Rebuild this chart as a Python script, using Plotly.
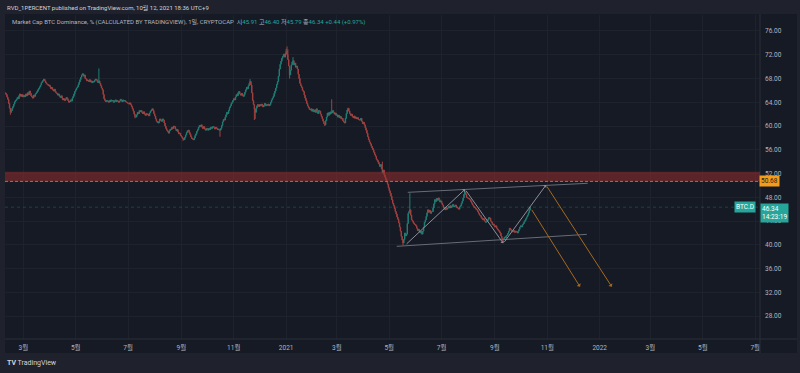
import plotly.graph_objects as go
import pandas as pd

# ---------------- data (daily closes) ----------------
close_2020_02 = [65.5, 65.3, 64.9, 64.5, 63.8, 63.0, 62.3, 62.6, 63.0, 63.3, 63.7, 64.1, 64.3, 64.5,
                 64.8, 64.6, 65.1, 65.4, 65.0, 65.3, 64.9]  # from Feb 9
close_2020_03 = [65.2, 64.9, 65.0, 65.4, 65.1, 65.6, 65.3, 65.9, 65.5, 65.1, 64.9, 64.7, 65.2, 65.0,
                 65.4, 65.6, 65.8, 66.1, 66.3, 66.6, 66.9, 67.3, 67.5, 67.7, 67.9, 67.6, 67.3, 67.1,
                 67.0, 66.8, 66.9]
close_2020_04 = [66.6, 66.3, 66.5, 66.1, 65.9, 66.2, 65.8, 65.6, 65.5, 65.2, 65.4, 65.0, 64.8, 65.1,
                 64.7, 64.4, 64.6, 64.3, 64.5, 64.8, 64.6, 64.3, 64.0, 64.1, 64.4, 64.2, 64.7, 65.0,
                 65.4, 65.8]
close_2020_05 = [66.1, 66.4, 66.6, 67.0, 67.4, 67.8, 68.2, 68.6, 68.8, 68.4, 68.6, 68.0, 67.9, 67.6,
                 67.7, 67.5, 67.8, 67.4, 67.6, 67.3, 67.5, 67.4, 67.7, 67.9, 67.8, 67.5, 67.3, 67.6,
                 67.2, 66.8, 66.4]
close_2020_06 = [66.1, 65.3, 64.6, 64.3, 64.1, 64.3, 64.2, 64.0, 64.3, 64.1, 64.4, 64.2, 64.3, 64.0,
                 64.2, 64.4, 64.1, 64.3, 64.2, 64.0, 64.2, 64.5, 64.3, 64.1, 64.4, 64.2, 64.3, 64.1,
                 64.0, 63.9]
close_2020_07 = [63.8, 63.7, 63.9, 63.6, 63.3, 62.9, 62.5, 62.0, 61.6, 61.5, 61.9, 62.3, 62.1, 62.6,
                 62.4, 62.6, 62.3, 62.1, 62.4, 62.0, 61.8, 62.1, 61.9, 62.0, 61.7, 62.2, 62.5, 62.7,
                 62.9, 62.6, 62.1]
close_2020_08 = [61.7, 61.2, 60.8, 60.6, 60.5, 60.8, 61.2, 61.0, 60.8, 61.2, 61.0, 60.5, 60.0, 59.6,
                 59.3, 59.1, 58.8, 59.2, 59.5, 59.4, 59.8, 59.6, 60.0, 59.9, 59.5, 59.2, 59.4, 59.0,
                 58.7, 58.8, 58.4]
close_2020_09 = [58.2, 58.0, 57.8, 57.7, 58.1, 58.5, 58.9, 59.2, 59.3, 58.9, 58.6, 58.2, 57.9, 57.8,
                 57.7, 58.0, 58.4, 58.7, 59.1, 59.4, 59.8, 60.1, 59.9, 60.2, 59.8, 59.6, 59.9, 59.5,
                 59.3, 59.6]
close_2020_10 = [59.5, 59.3, 59.6, 59.4, 59.8, 59.6, 59.9, 59.9, 59.7, 59.5, 59.8, 59.6, 59.4, 59.5,
                 59.3, 59.3, 59.6, 60.1, 60.7, 61.1, 61.0, 61.5, 61.9, 62.3, 62.1, 62.6, 63.1, 63.4,
                 63.8, 64.0, 64.3]
close_2020_11 = [64.6, 64.4, 64.9, 65.3, 65.1, 65.6, 65.8, 65.4, 65.2, 65.5, 65.1, 65.0, 65.3, 65.7,
                 66.1, 66.5, 66.3, 66.8, 67.2, 67.5, 66.9, 65.6, 64.3, 63.6, 62.8, 62.3, 63.0, 63.4,
                 63.6, 63.3]
close_2020_12 = [63.6, 63.4, 63.7, 63.5, 63.2, 63.5, 63.8, 63.4, 63.6, 63.5, 63.7, 63.4, 63.6, 64.0,
                 64.4, 64.7, 65.0, 65.5, 65.9, 66.4, 67.0, 67.5, 68.4, 69.6, 70.4, 70.9, 71.4, 71.7,
                 72.1, 71.6, 72.2]
close_2021_01 = [72.6, 72.0, 71.2, 70.1, 68.6, 69.4, 70.3, 70.8, 71.0, 70.3, 70.6, 69.9, 70.1, 69.6,
                 68.7, 68.0, 67.2, 66.8, 66.5, 66.0, 65.8, 65.2, 64.7, 64.3, 63.8, 63.4, 63.1, 62.8,
                 62.7, 62.9, 62.5]
close_2021_02 = [62.8, 62.4, 62.7, 62.3, 62.9, 62.4, 62.1, 62.6, 62.5, 62.0, 61.6, 61.2, 60.8, 60.4,
                 60.2, 60.9, 61.5, 62.2, 61.8, 62.3, 62.0, 62.4, 62.2, 62.6, 62.3, 62.0, 62.2, 61.8]
close_2021_03 = [61.9, 61.5, 61.8, 61.4, 61.6, 61.2, 61.3, 60.9, 60.7, 60.5, 61.3, 62.1, 62.7, 63.0,
                 62.5, 62.1, 61.8, 62.0, 61.6, 61.4, 61.7, 61.3, 61.5, 61.2, 61.4, 61.1, 61.0, 61.0,
                 61.3, 60.8, 60.4]
close_2021_04 = [60.6, 60.2, 59.7, 59.3, 58.8, 58.2, 57.7, 57.3, 57.0, 56.6, 56.3, 56.0, 55.6, 55.2,
                 54.9, 54.4, 54.2, 53.9, 53.6, 53.2, 53.5, 52.8, 52.1, 52.6, 51.8, 51.4, 51.0, 50.6,
                 50.2, 49.6]
close_2021_05 = [49.1, 48.7, 48.2, 47.6, 47.0, 46.6, 46.1, 45.6, 45.2, 44.7, 44.3, 43.7, 43.0, 42.3,
                 41.4, 40.8, 40.3, 40.9, 42.0, 41.5, 41.8, 43.6, 45.3, 45.6, 45.9, 45.0, 44.2, 44.0,
                 43.7, 43.5, 43.4]
close_2021_06 = [43.2, 42.8, 42.4, 42.6, 42.2, 42.0, 42.3, 41.8, 42.3, 43.0, 43.8, 44.2, 44.8, 45.4,
                 45.9, 45.5, 45.8, 45.3, 45.6, 45.6, 46.2, 46.9, 47.6, 47.3, 47.8, 47.5, 47.9, 47.6,
                 47.2, 47.4]
close_2021_07 = [47.0, 46.7, 46.3, 46.0, 45.9, 46.3, 46.0, 46.2, 46.5, 46.2, 46.6, 46.3, 46.5, 46.8,
                 46.4, 46.5, 46.7, 46.4, 46.2, 46.2, 46.0, 46.4, 46.6, 47.0, 47.4, 47.9, 48.5, 48.9,
                 48.5, 48.0, 47.9]
close_2021_08 = [47.8, 47.7, 47.6, 47.3, 47.0, 46.7, 46.5, 46.3, 46.2, 46.0, 45.9, 45.6, 45.3, 45.0,
                 44.9, 44.6, 44.4, 44.2, 44.4, 44.0, 43.8, 43.9, 44.1, 44.3, 44.6, 44.5, 44.0, 43.8,
                 43.4, 43.5, 43.2]
close_2021_09 = [43.0, 43.2, 42.8, 42.6, 42.4, 42.2, 42.0, 41.5, 41.1, 40.8, 41.0, 41.3, 41.2, 41.5,
                 41.6, 41.9, 42.3, 42.8, 42.6, 42.4, 42.2, 42.2, 42.4, 42.1, 42.3, 42.2, 42.0, 42.3,
                 42.6, 43.0]
close_2021_10 = [43.2, 43.0, 43.4, 43.6, 43.9, 44.1, 44.4, 44.7, 45.0, 45.4, 45.91, 46.34]

month_starts = ["2020-02-09", "2020-03-01", "2020-04-01", "2020-05-01", "2020-06-01", "2020-07-01",
                "2020-08-01", "2020-09-01", "2020-10-01", "2020-11-01", "2020-12-01", "2021-01-01",
                "2021-02-01", "2021-03-01", "2021-04-01", "2021-05-01", "2021-06-01", "2021-07-01",
                "2021-08-01", "2021-09-01", "2021-10-01"]
month_closes = [close_2020_02, close_2020_03, close_2020_04, close_2020_05, close_2020_06, close_2020_07,
                close_2020_08, close_2020_09, close_2020_10, close_2020_11, close_2020_12, close_2021_01,
                close_2021_02, close_2021_03, close_2021_04, close_2021_05, close_2021_06, close_2021_07,
                close_2021_08, close_2021_09, close_2021_10]

first_open = 65.6
high_wicks = {"2020-05-28": 69.7, "2020-11-20": 67.9, "2021-01-01": 73.0, "2021-01-02": 73.4,
              "2021-01-03": 72.9, "2021-01-09": 71.6, "2021-02-23": 64.5, "2021-04-23": 54.0,
              "2021-05-25": 48.7, "2021-07-28": 49.2, "2021-10-12": 46.40}
low_wicks = {"2020-02-15": 61.9, "2020-07-09": 61.3, "2020-09-03": 57.5, "2020-10-16": 58.2,
             "2020-11-25": 61.0, "2020-11-26": 61.2, "2021-01-05": 68.0, "2021-02-15": 60.0,
             "2021-05-17": 39.9, "2021-09-10": 40.3, "2021-10-12": 45.79}

last_price = 46.34
zone_low, zone_high = 50.68, 52.3

# drawings (date, value)
zigzag = [("2021-05-19 10:00", 39.92), ("2021-07-28 05:00", 49.35),
          ("2021-09-10 19:00", 40.25), ("2021-10-30 12:00", 50.07)]
channel_upper = [("2021-05-22 12:00", 48.84), ("2021-12-18", 50.36)]
channel_lower = [("2021-05-09 17:00", 39.75), ("2021-12-17", 41.77)]
orange_arrows = [(("2021-10-12 19:00", 46.15), ("2021-12-09", 32.96)),
                 (("2021-10-30 12:00", 50.07), ("2022-01-15", 32.96))]

y_ticks = [28, 32, 36, 40, 44, 48, 52, 56, 60, 64, 68, 72, 76]
x_tickvals = ["2020-03-01", "2020-05-01", "2020-07-01", "2020-09-01", "2020-11-01", "2021-01-01",
              "2021-03-01", "2021-05-01", "2021-07-01", "2021-09-01", "2021-11-01", "2022-01-01",
              "2022-03-01", "2022-05-01", "2022-07-01"]
x_ticktext = ["3월", "5월", "7월", "9월", "11월", "2021", "3월", "5월", "7월", "9월", "11월", "2022",
              "3월", "5월", "7월"]

# ---------------- build OHLC ----------------
dates, closes = [], []
for start, vals in zip(month_starts, month_closes):
    dates += list(pd.date_range(start, periods=len(vals), freq="D"))
    closes += vals
opens = [first_open] + closes[:-1]
highs, lows = [], []
for d, o, c in zip(dates, opens, closes):
    key = d.strftime("%Y-%m-%d")
    highs.append(max(o, c, high_wicks.get(key, 0)))
    lows.append(min(o, c, low_wicks.get(key, 999)))
opens[-1] = 45.91

BG = "#161a25"
BORDER = "#1f222d"
TXT = "#b2b5be"
GRID = "#1e222d"
TEAL = "#26a69a"
FONT = "Roboto, 'Noto Sans CJK KR', sans-serif"

fig = go.Figure()
fig.add_trace(go.Candlestick(
    x=dates, open=opens, high=highs, low=lows, close=closes,
    increasing=dict(line=dict(color="#1e7f76", width=1), fillcolor="#1e7f76"),
    decreasing=dict(line=dict(color="#a3403f", width=1), fillcolor="#a3403f"),
    showlegend=False, hoverinfo="skip"))

W, H, L, R, T, B = 800, 373, 5, 40, 15, 34
pw, ph = W - L - R, H - T - B


def px(xp):
    return (xp - L) / pw


def py(yp):
    return (H - B - yp) / ph


shapes = [
    # chart panel background incl. axis strips
    dict(type="rect", xref="paper", yref="paper", x0=px(5), x1=px(797), y0=py(353), y1=py(14),
         fillcolor=BG, line=dict(width=0), layer="below"),
    # axis separators
    dict(type="line", xref="paper", yref="paper", x0=1, x1=1, y0=py(353), y1=py(14),
         line=dict(color="#2a2e39", width=1)),
    dict(type="line", xref="paper", yref="paper", x0=0, x1=px(797), y0=0, y1=0,
         line=dict(color="#2a2e39", width=1)),
    # resistance zone
    dict(type="rect", xref="paper", yref="y", x0=0, x1=1, y0=zone_low, y1=zone_high,
         fillcolor="rgba(160,45,45,0.5)", line=dict(width=0), layer="above"),
    dict(type="line", xref="paper", yref="y", x0=0, x1=1, y0=zone_low, y1=zone_low,
         line=dict(color="#d9602f", width=1, dash="3px,2px"), layer="above"),
    # last price line
    dict(type="line", xref="paper", yref="y", x0=0, x1=1, y0=last_price, y1=last_price,
         line=dict(color="rgba(38,166,154,0.3)", width=1, dash="dot"), layer="above"),
    # channel lines
    dict(type="line", x0=channel_upper[0][0], y0=channel_upper[0][1], x1=channel_upper[1][0],
         y1=channel_upper[1][1], line=dict(color="#686c77", width=1), layer="above"),
    dict(type="line", x0=channel_lower[0][0], y0=channel_lower[0][1], x1=channel_lower[1][0],
         y1=channel_lower[1][1], line=dict(color="#686c77", width=1), layer="above"),
]

annotations = []
for (x0, y0), (x1, y1) in zip(zigzag[:-1], zigzag[1:]):
    annotations.append(dict(x=x1, y=y1, ax=x0, ay=y0, xref="x", yref="y", axref="x", ayref="y",
                            text="", showarrow=True, arrowhead=1, arrowsize=0.7, arrowwidth=1,
                            arrowcolor="#8c8f99", standoff=0, startstandoff=0))
for (x0, y0), (x1, y1) in orange_arrows:
    annotations.append(dict(x=x1, y=y1, ax=x0, ay=y0, xref="x", yref="y", axref="x", ayref="y",
                            text="", showarrow=True, arrowhead=1, arrowsize=0.8, arrowwidth=1,
                            arrowcolor="#a8691d", standoff=0, startstandoff=0))

num = lambda s: f"<span style='color:{TEAL}'>{s}</span>"
annotations += [
    dict(xref="paper", yref="paper", x=px(5), y=py(7.5), xanchor="left", yanchor="middle",
         text="RVD_1PERCENT published on TradingView.com, 10월 12, 2021 18:36 UTC+9",
         showarrow=False, font=dict(size=6, color="#d1d4dc", family=FONT)),
    dict(xref="paper", yref="paper", x=px(10), y=py(22.5), xanchor="left", yanchor="middle",
         text="Market Cap BTC Dominance, % (CALCULATED BY TRADINGVIEW), 1일, CRYPTOCAP&nbsp;&nbsp;"
              "시" + num("45.91") + "&nbsp;고" + num("46.40") + "&nbsp;저" + num("45.79")
              + "&nbsp;종" + num("46.34") + "&nbsp;" + num("+0.44 (+0.97%)"),
         showarrow=False, font=dict(size=6, color=TXT, family=FONT)),
    dict(xref="paper", yref="paper", x=px(5), y=py(363), xanchor="left", yanchor="middle",
         text="<b>TV</b> TradingView", showarrow=False,
         font=dict(size=7, color="#d1d4dc", family=FONT)),
    # price labels on the axis
    dict(xref="paper", yref="y", x=px(759), y=zone_low, xanchor="left", yanchor="middle",
         text="50.68", showarrow=False, bgcolor="#f59d1a", borderpad=1,
         font=dict(size=6.5, color="#1c1c1c", family=FONT)),
    dict(xref="paper", yref="y", x=px(756), y=last_price, xanchor="right", yanchor="middle",
         text="BTC.D", showarrow=False, bgcolor=TEAL, borderpad=1,
         font=dict(size=6.5, color="#ffffff", family=FONT)),
    dict(xref="paper", yref="y", x=px(760), y=47.05, xanchor="left", yanchor="top",
         text="46.34<br>14:23:19", showarrow=False, bgcolor=TEAL, borderpad=1, align="left",
         font=dict(size=6.5, color="#ffffff", family=FONT)),
]

fig.update_layout(
    width=W, height=H, margin=dict(l=L, r=R, t=T, b=B),
    paper_bgcolor=BORDER, plot_bgcolor=BG,
    font=dict(family=FONT, size=6.5, color=TXT),
    shapes=shapes, annotations=annotations, showlegend=False,
    xaxis=dict(type="date", range=["2020-02-08 17:00", "2022-07-06 14:00"],
               tickvals=x_tickvals, ticktext=x_ticktext, showgrid=True, gridcolor=GRID,
               gridwidth=1, zeroline=False, showline=False, ticks="",
               rangeslider=dict(visible=False), tickfont=dict(size=6.5, color=TXT),
               ticklabelstandoff=3),
    yaxis=dict(range=[24.15, 78.69], side="right", tickvals=y_ticks,
               ticktext=[f"{v:.2f}" for v in y_ticks], showgrid=True, gridcolor=GRID,
               gridwidth=1, zeroline=False, showline=False, ticks="",
               tickfont=dict(size=6.5, color=TXT), ticklabelstandoff=4),
)

fig.write_html("out.html", config={"displayModeBar": False},
               post_script="document.body.style.margin='0';document.body.style.overflow='hidden';")
